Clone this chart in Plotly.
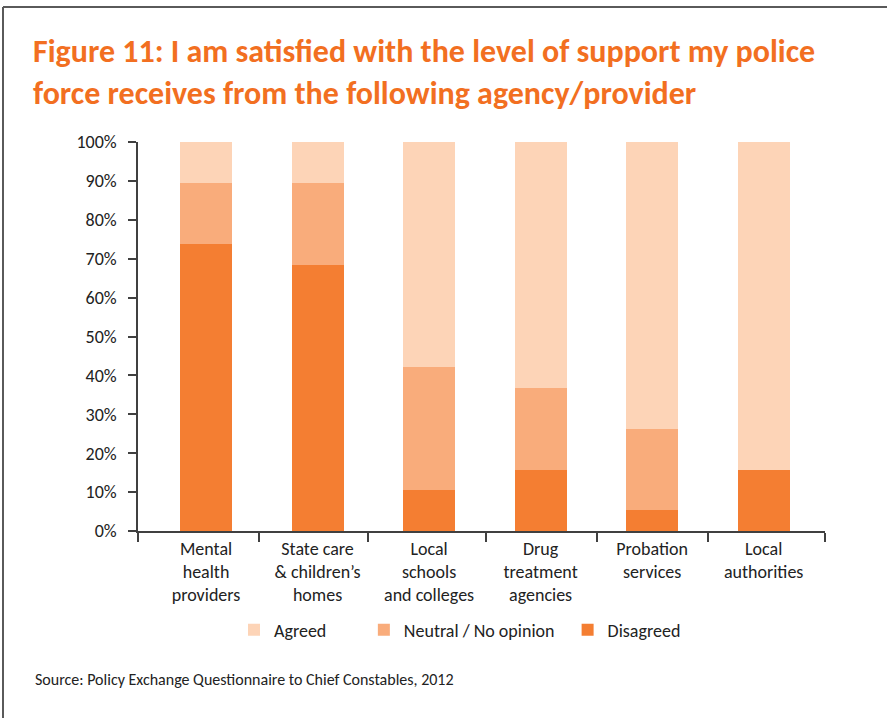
import plotly.graph_objects as go

categories = ["Mental<br>health<br>providers", "State care<br>&amp; children’s<br>homes",
              "Local<br>schools<br>and colleges", "Drug<br>treatment<br>agencies",
              "Probation<br>services", "Local<br>authorities"]
disagreed = [73.7, 68.4, 10.5, 15.8, 5.3, 15.8]
neutral = [15.8, 21.1, 31.6, 21.0, 21.0, 0.0]
agreed = [10.5, 10.5, 57.9, 63.2, 73.7, 84.2]
y_ticks = [0, 10, 20, 30, 40, 50, 60, 70, 80, 90, 100]
y_tick_labels = ["0%", "10%", "20%", "30%", "40%", "50%", "60%", "70%", "80%", "90%", "100%"]

W, H = 887, 718
L, R, T, B = 138, 825, 142, 531
FONT = "Carlito, Calibri, Lato, sans-serif"
TXT = "#222222"
NB = "\u00a0"

xpos = list(range(len(categories)))
xlo, xhi = -0.61, 5.55

fig = go.Figure()
fig.add_trace(go.Bar(x=xpos, y=disagreed, name="Disagreed", marker=dict(color="#F47E32", line=dict(width=0)), width=0.466))
fig.add_trace(go.Bar(x=xpos, y=neutral, name="Neutral / No opinion" + NB * 2, marker=dict(color="#F9AC7B", line=dict(width=0)), width=0.466))
fig.add_trace(go.Bar(x=xpos, y=agreed, name="Agreed" + NB * 8, marker=dict(color="#FDD4B7", line=dict(width=0)), width=0.466))
fig.add_trace(go.Scatter(x=[None], y=[None], xaxis="x2", showlegend=False, hoverinfo="skip"))

def px_x(p):
    return (p - L) / (R - L)

def px_y(p):
    return (B - p) / (B - T)

fig.update_layout(
    width=W, height=H,
    margin=dict(l=L, r=W - R, t=T, b=H - B, autoexpand=False),
    paper_bgcolor="white", plot_bgcolor="white",
    barmode="stack",
    font=dict(family=FONT, size=18, color=TXT),
    title=dict(
        text="Figure 11: I am satisfied with the level of support my police<br>force receives from the following agency/provider",
        font=dict(family=FONT, size=32, color="#F26F21", weight="bold"),
        x=33 / W, xanchor="left", xref="container",
        y=1 - 62 / H, yanchor="top", yref="container",
    ),
    xaxis=dict(
        range=[xlo, xhi], tickmode="array", tickvals=xpos, ticktext=categories,
        ticks="outside", ticklen=1, tickcolor="rgba(0,0,0,0)",
        showline=False, showgrid=False, zeroline=False,
        tickfont=dict(size=18, color=TXT),
    ),
    xaxis2=dict(
        overlaying="x", range=[xlo, xhi], tickmode="array",
        tickvals=[xlo + 0.004, 0.475, 1.452, 2.509, 3.504, 4.498, xhi - 0.004],
        ticks="outside", ticklen=9, tickcolor="#404040", tickwidth=1.5,
        showticklabels=False, showline=True, linecolor="#404040", linewidth=1.5,
        showgrid=False, zeroline=False, side="bottom",
    ),
    yaxis=dict(
        range=[0, 100], tickmode="array", tickvals=y_ticks, ticktext=y_tick_labels,
        ticks="outside", ticklen=8, tickcolor="#404040", tickwidth=1.5,
        showline=True, linecolor="#404040", linewidth=1.5,
        showgrid=False, zeroline=False, ticklabelstandoff=8,
        tickfont=dict(size=18, color=TXT),
    ),
    legend=dict(
        orientation="h", traceorder="reversed",
        x=px_x(234), xanchor="left", y=px_y(630), yanchor="middle",
        font=dict(size=18, color=TXT), itemwidth=30,
    ),
    showlegend=True,
    annotations=[dict(
        text="Source: Policy Exchange Questionnaire to Chief Constables, 2012",
        xref="paper", yref="paper", x=px_x(33), y=px_y(679),
        xanchor="left", yanchor="middle", showarrow=False,
        font=dict(family=FONT, size=16, color=TXT),
    )],
    shapes=[
        dict(type="line", xref="paper", yref="paper", x0=px_x(3), x1=px_x(887), y0=px_y(7), y1=px_y(7),
             line=dict(color="#5a5a5a", width=2)),
        dict(type="line", xref="paper", yref="paper", x0=px_x(3), x1=px_x(3), y0=px_y(7), y1=px_y(718),
             line=dict(color="#5a5a5a", width=2)),
    ],
)

fig.write_html("out.html", config={"displayModeBar": False},
               post_script="document.body.style.margin='0';")
